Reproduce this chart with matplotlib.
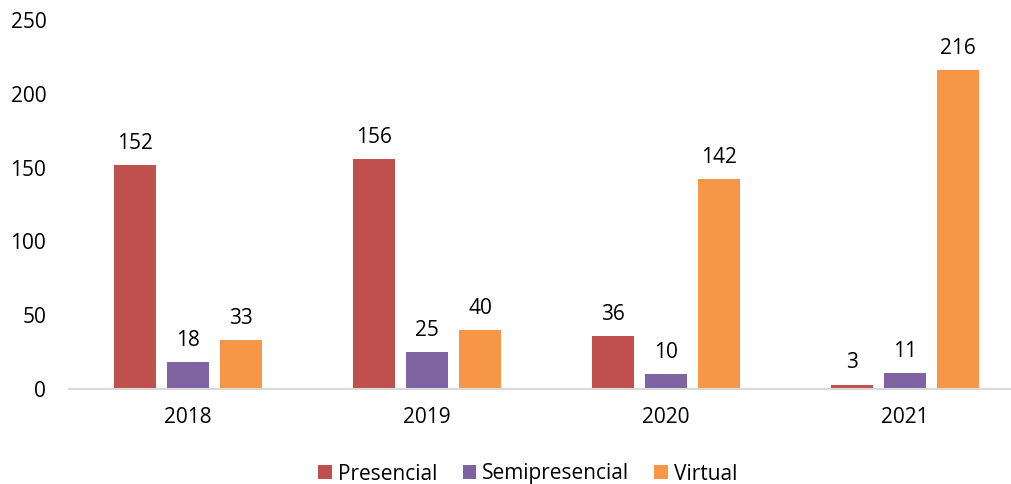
import numpy as np
import matplotlib.pyplot as plt

years = ['2018', '2019', '2020', '2021']
presencial = [152, 156, 36, 3]
semipresencial = [18, 25, 10, 11]
virtual = [33, 40, 142, 216]

series = [('Presencial', presencial, '#C0504D'),
          ('Semipresencial', semipresencial, '#8064A2'),
          ('Virtual', virtual, '#F79646')]

plt.rcParams['font.family'] = ['Open Sans', 'DejaVu Sans']
fs = 15

fig = plt.figure(figsize=(10.12, 4.84), dpi=100)
ax = fig.add_axes([0.0677, 0.1963, 0.9447, 0.7624])

x = np.arange(len(years))
width = 0.176
step = 0.222
for i, (name, vals, color) in enumerate(series):
    pos = x + (i - 1) * step
    bars = ax.bar(pos, vals, width, color=color, label=name, zorder=2)
    for b, v in zip(bars, vals):
        ax.annotate(str(v), (b.get_x() + b.get_width() / 2, v),
                    xytext=(0, 8), textcoords='offset points',
                    ha='center', va='bottom', fontsize=fs, color='#000000')

ax.set_xlim(-0.5, len(years) - 0.5)
ax.set_ylim(0, 250)
ax.set_yticks(range(0, 251, 50))
ax.set_xticks(x)
ax.set_xticklabels(years)
ax.tick_params(axis='both', length=0, labelsize=fs)
ax.tick_params(axis='x', pad=13)
ax.tick_params(axis='y', pad=16)

for s in ['top', 'right', 'left']:
    ax.spines[s].set_visible(False)
ax.spines['bottom'].set_color('#D9D9D9')
ax.spines['bottom'].set_linewidth(1.5)

ax.legend(loc='center', bbox_to_anchor=(528 / 1012, 1 - 474 / 484),
          bbox_transform=fig.transFigure, ncol=3, frameon=False,
          fontsize=fs, handlelength=0.65, handleheight=0.65,
          handletextpad=0.3, columnspacing=1.2)

fig.savefig('out.png', dpi=100)
